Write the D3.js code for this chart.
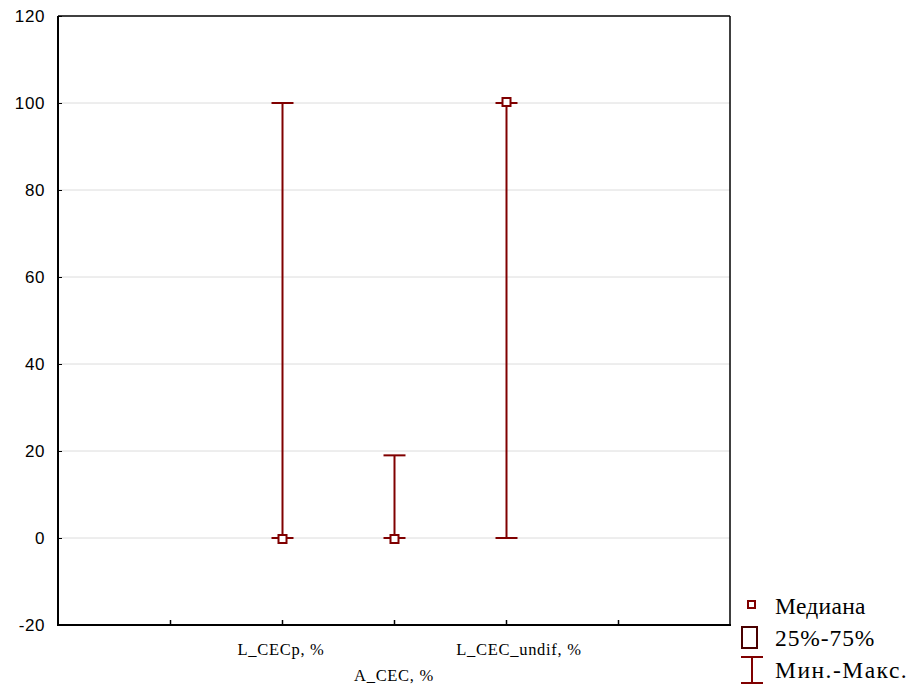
<!DOCTYPE html>
<html><head><meta charset="utf-8">
<script src="https://cdn.jsdelivr.net/npm/d3@7"></script>
<style>body{margin:0;background:#fff}</style>
</head><body>
<svg id="c" width="919" height="688"></svg>
<script>
const categories = ["L_CECp, %", "A_CEC, %", "L_CEC_undif, %"];
const medians = [0, 0, 100];
const mins = [0, 0, 0];
const maxs = [100, 19, 100];
const yTicks = [-20, 0, 20, 40, 60, 80, 100, 120];
const legendLabels = ["Медиана", "25%-75%", "Мин.-Макс."];

const svg = d3.select("#c");
const L = 58, R = 730, T = 16, B = 625;
const y = d3.scaleLinear().domain([-20, 120]).range([B, T]);
const x = d3.scaleLinear().domain([0, 6]).range([L, R]);
const red = "#800000";

// gridlines
svg.append("g").selectAll("line").data(yTicks.filter(d => d > -20 && d < 120)).join("line")
  .attr("x1", L).attr("x2", R).attr("y1", d => y(d)).attr("y2", d => y(d))
  .attr("stroke", "#dcdcdc").attr("stroke-width", 1);

// y axis labels
const yAxis = d3.axisLeft(y).tickValues(yTicks).tickSize(-4).tickPadding(13).tickFormat(d => String(d));
const gy = svg.append("g").attr("transform", `translate(${L},0)`).call(yAxis);
gy.select(".domain").remove();
gy.selectAll("text").attr("font-family", "Liberation Sans, Arial, sans-serif").attr("font-size", 17)
  .attr("letter-spacing", 0.6).attr("fill", "#000");
gy.selectAll("line").attr("stroke", "#000");

// x axis ticks
const gx = svg.append("g").attr("transform", `translate(0,${B})`)
  .call(d3.axisBottom(x).tickValues([1, 2, 3, 4, 5]).tickSize(-5).tickFormat(""));
gx.select(".domain").remove();
gx.selectAll("line").attr("stroke", "#000").attr("stroke-width", 1.5);

// category labels (staggered)
const labelShift = [-1, 0, 13];
svg.append("g").selectAll("text").data(categories).join("text")
  .attr("x", (d, i) => x(i + 2) + labelShift[i]).attr("y", (d, i) => i % 2 === 0 ? 655 : 681)
  .attr("text-anchor", "middle").attr("font-family", "Liberation Serif, Times New Roman, serif")
  .attr("font-size", 16.5).attr("letter-spacing", 0.7).attr("fill", "#000")
  .text(d => d);

// frame
svg.append("line").attr("x1", L).attr("x2", R).attr("y1", T).attr("y2", T).attr("stroke", "#000").attr("stroke-width", 1.5);
svg.append("line").attr("x1", R).attr("x2", R).attr("y1", T).attr("y2", B).attr("stroke", "#000").attr("stroke-width", 1.5);
svg.append("line").attr("x1", L).attr("x2", L).attr("y1", T).attr("y2", B + 1).attr("stroke", "#000").attr("stroke-width", 2);
svg.append("line").attr("x1", L - 1).attr("x2", R + 1).attr("y1", B).attr("y2", B).attr("stroke", "#000").attr("stroke-width", 2);

// whiskers
const g = svg.append("g");
categories.forEach((c, i) => {
  const cx = Math.round(x(i + 2)) + 0.5;
  g.append("line").attr("x1", cx).attr("x2", cx).attr("y1", y(mins[i])).attr("y2", y(maxs[i])).attr("stroke", red).attr("stroke-width", 2);
  [mins[i], maxs[i]].forEach(v => {
    g.append("line").attr("x1", cx - 11).attr("x2", cx + 11).attr("y1", y(v)).attr("y2", y(v)).attr("stroke", red).attr("stroke-width", 2);
  });
  g.append("rect").attr("x", cx - 4).attr("y", y(medians[i]) - 4 + (medians[i] === 100 ? -1 : 1)).attr("width", 8).attr("height", 8)
    .attr("fill", "#fff").attr("stroke", red).attr("stroke-width", 2);
});

// legend
const lg = svg.append("g");
lg.append("rect").attr("x", 748).attr("y", 601).attr("width", 7).attr("height", 7).attr("fill", "#fff").attr("stroke", red).attr("stroke-width", 2);
lg.append("rect").attr("x", 742).attr("y", 627).attr("width", 15).attr("height", 21).attr("fill", "#fff").attr("stroke", "#4a0000").attr("stroke-width", 2);
lg.append("line").attr("x1", 752).attr("x2", 752).attr("y1", 657).attr("y2", 683).attr("stroke", red).attr("stroke-width", 2);
lg.append("line").attr("x1", 741).attr("x2", 763).attr("y1", 657).attr("y2", 657).attr("stroke", red).attr("stroke-width", 2);
lg.append("line").attr("x1", 741).attr("x2", 763).attr("y1", 683).attr("y2", 683).attr("stroke", red).attr("stroke-width", 2);
lg.selectAll("text").data(legendLabels).join("text")
  .attr("x", 775).attr("y", (d, i) => 614 + i * 32)
  .attr("font-family", "Liberation Serif, Times New Roman, serif").attr("font-size", 23.5)
  .attr("letter-spacing", (d, i) => [0.3, 0.9, 1.5][i]).attr("fill", "#000")
  .text(d => d);
</script>
</body></html>
